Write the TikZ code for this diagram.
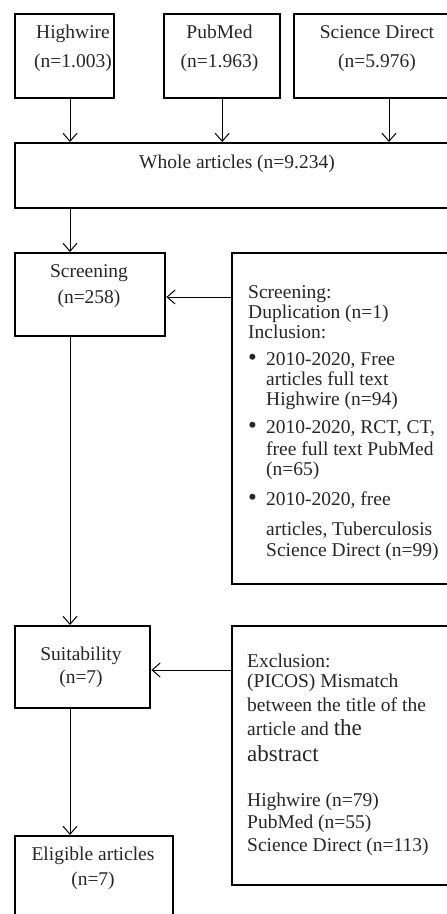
\documentclass[tikz,border=0pt]{standalone}
\usepackage{fontspec}
\setmainfont{Liberation Serif}
\usetikzlibrary{arrows.meta}
\newcommand{\mybul}{\makebox[18pt][l]{{\fontsize{25}{20}\selectfont\textbullet}}}
\newcommand{\myind}{\makebox[18pt]{}}
\begin{document}
\begin{tikzpicture}[x=1pt,y=-1pt,
  box/.style={draw, line width=2.4pt, inner sep=0pt, anchor=north west},
  txt/.style={inner sep=0pt, anchor=north, text=black!85},
  arr/.style={line width=1pt, -{Straight Barb[length=8pt,width=14pt,line width=1pt]}}]
\path[use as bounding box] (0,0) rectangle (447,914);
\clip (0,0) rectangle (447,914);

% boxes
\node[box, minimum width=99pt, minimum height=84pt] (hw) at (14,13) {};
\node[box, minimum width=116pt, minimum height=84pt] (pm) at (163,13) {};
\node[box, minimum width=168pt, minimum height=84pt] (sd) at (293,13) {};
\node[box, minimum width=446pt, minimum height=65pt] (whole) at (14,142) {};
\node[box, minimum width=150pt, minimum height=83pt] (scr) at (14,252) {};
\node[box, minimum width=230pt, minimum height=331pt] (side1) at (231,252) {};
\node[box, minimum width=135pt, minimum height=82pt] (suit) at (14,625) {};
\node[box, minimum width=230pt, minimum height=259pt] (excl) at (231,625) {};
\node[box, minimum width=158pt, minimum height=110pt] (elig) at (14,835) {};

% texts
\node[txt, align=center, font=\fontsize{19.5}{29}\selectfont] (hwt) at (73,25) {Highwire\\(n=1.003)};
\node[txt, align=center, font=\fontsize{19.5}{29}\selectfont] (pmt) at (219.5,25) {PubMed\\(n=1.963)};
\node[txt, align=center, font=\fontsize{19.5}{29}\selectfont] (sdt) at (377,25) {Science Direct\\(n=5.976)};
\node[txt, font=\fontsize{19.5}{24}\selectfont] (wholet) at (237,155) {Whole articles (n=9.234)};
\node[txt, align=center, font=\fontsize{19.5}{26}\selectfont] (scrt) at (89,264) {Screening\\(n=258)};
\node[txt, align=center, font=\fontsize{19.5}{23}\selectfont] (suitt) at (81,647) {Suitability\\(n=7)};
\node[txt, align=center, font=\fontsize{19.5}{25}\selectfont] (eligt) at (93,847) {Eligible articles\\(n=7)};

\node[txt, anchor=north west, align=left, font=\fontsize{19.5}{20}\selectfont] (side1t) at (248,285)
{Screening:\\
Duplication (n=1)\\
Inclusion:\\[7pt]
\mybul 2010-2020, Free\\
\myind articles full text\\
\myind Highwire (n=94)\\[8pt]
\mybul 2010-2020, RCT, CT,\\[2pt]
\myind free full text PubMed\\
\myind (n=65)\\[10pt]
\mybul 2010-2020, free\\[10pt]
\myind articles, Tuberculosis\\[1pt]
\myind Science Direct (n=99)};

\node[txt, anchor=north west, align=left, font=\fontsize{19.5}{20}\selectfont] (exclt) at (247,654)
{Exclusion:\\
(PICOS) Mismatch\\[4pt]
between the title of the\\[4pt]
article and {\fontsize{23}{20}\selectfont the}\\[6pt]
{\fontsize{23}{20}\selectfont abstract}\\[25pt]
Highwire (n=79)\\[2pt]
PubMed (n=55)\\[3pt]
Science Direct (n=113)};

% connector anchors
\coordinate (axis) at (70,0);
\coordinate (sdx) at (389,0);
\coordinate (y1) at (0,297);
\coordinate (y2) at (0,670);

% connectors
\draw[arr] (hw.south -| axis) -- (whole.north -| axis);
\draw[arr] (pm.south) -- (whole.north -| pm.south);
\draw[arr] (sd.south -| sdx) -- (whole.north -| sdx);
\draw[arr] (whole.south -| axis) -- (scr.north -| axis);
\draw[arr] (side1.west |- y1) -- (scr.east |- y1);
\draw[arr] (scr.south -| axis) -- (suit.north -| axis);
\draw[arr] (excl.west |- y2) -- (suit.east |- y2);
\draw[arr] (suit.south -| axis) -- (elig.north -| axis);
\end{tikzpicture}
\end{document}
